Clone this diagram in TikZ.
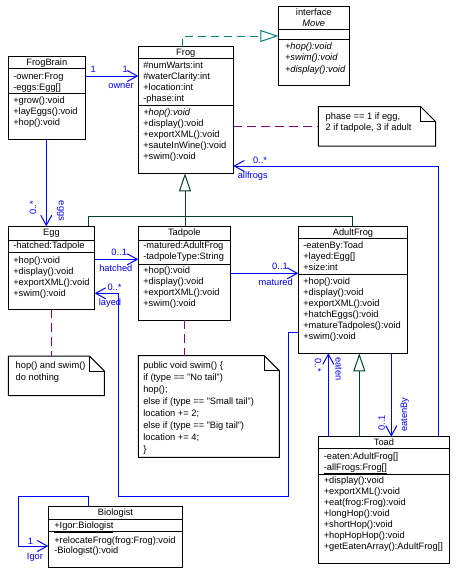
\documentclass[tikz,border=0pt]{standalone}
\usepackage{fontspec}
\setmainfont{Liberation Sans}
\usetikzlibrary{arrows.meta,fit,calc}
\definecolor{umlblue}{RGB}{0,0,255}
\definecolor{umlgen}{RGB}{0,64,48}
\definecolor{umlreal}{RGB}{0,128,128}
\definecolor{umlnote}{RGB}{128,0,128}
\tikzset{
  every node/.style={font=\fontsize{9.3}{11}\selectfont},
  classframe/.style={draw=black, line width=1pt, inner sep=0pt, outer sep=0pt, fill=white},
  notefit/.style={inner sep=0pt, outer sep=0pt},
  divider/.style={draw=black, line width=1pt},
  noteline/.style={draw=black, line width=1pt, line join=miter},
  txt/.style={anchor=base west, inner sep=0pt, outer sep=0pt},
  ttl/.style={anchor=base, inner sep=0pt, outer sep=0pt},
  lbl/.style={text=umlblue, inner sep=0pt, outer sep=0pt, anchor=center},
  assoc/.style={draw=umlblue, line width=1pt, -{Straight Barb[length=10pt,width=11pt]}},
  gen/.style={draw=umlgen, line width=1pt},
  gentip/.style={-{Triangle[open,length=18pt,width=12pt]}},
  real/.style={draw=umlreal, line width=1pt, dash pattern=on 8pt off 5pt, -{Triangle[open,length=18pt,width=12pt]}},
  notelink/.style={draw=umlnote, line width=1pt, dash pattern=on 9pt off 5pt},
}
\newcommand\umlbox[7]{%
  \coordinate (#1-nw) at (#2,#3); \coordinate (#1-se) at (#4,#5);
  \node[classframe, fit=(#1-nw)(#1-se)] (#1) {};
  \draw[divider] (#2,#6) -- (#4,#6);
  \draw[divider] (#2,#7) -- (#4,#7);
}
\newcommand\umlnote[5]{%
  \coordinate (#1-nw) at (#2,#3); \coordinate (#1-se) at (#4,#5);
  \node[notefit, fit=(#1-nw)(#1-se)] (#1) {};
  \draw[noteline, fill=white] (#2,#3) -- ({#4-15},#3) -- (#4,{#3+15}) -- (#4,#5) -- (#2,#5) -- cycle;
  \draw[noteline] ({#4-15},#3) -- ({#4-15},{#3+15}) -- (#4,{#3+15});
}
\newcommand\txtlines[5]{%
  \foreach \t [count=\i from 0] in {#5} {
    \node[txt] (#1-\i) at ({#2},{#3+\i*#4}) {\t};
  }
}
\begin{document}
\begin{tikzpicture}[x=1pt,y=-1pt]
\fill[white] (0,0) rectangle (458,574);
\useasboundingbox (0,0) rectangle (458,574);

% ---------- classes ----------
\umlbox{frogbrain}{8.3}{56.7}{85.3}{139.3}{68.3}{93.3}
\node[ttl] (frogbrain-t) at (46.8,65.9) {FrogBrain};
\txtlines{frogbrain-a}{13.3}{79.2}{11}{-owner:Frog,-eggs:Egg[]}
\txtlines{frogbrain-m}{13.3}{103.5}{11.2}{+grow():void,+layEggs():void,+hop():void}

\umlbox{frog}{138.3}{46.7}{233.3}{173.3}{58.3}{105.3}
\node[ttl] (frog-t) at (185.8,55.7) {Frog};
\txtlines{frog-a}{143.3}{68.9}{11}{\#numWarts:int,\#waterClarity:int,+location:int,-phase:int}
\txtlines{frog-m}{143.3}{115.9}{11}{\textit{+hop():void},+display():void,+exportXML():void,+sauteInWine():void,+swim():void}

\umlbox{move}{278.3}{6}{349.3}{85.3}{29.3}{39.3}
\node[ttl] (move-t1) at (313.8,15.9) {interface};
\node[ttl] (move-t2) at (313.8,26.9) {\textit{Move}};
\txtlines{move-m}{285}{49.5}{11.3}{\textit{+hop():void},\textit{+swim():void},\textit{+display():void}}

\umlbox{egg}{8.3}{226.3}{94.7}{309}{240}{252.3}
\node[ttl] (egg-t) at (51.5,235.9) {Egg};
\txtlines{egg-a}{13.3}{248.9}{11}{-hatched:Tadpole}
\txtlines{egg-m}{13.3}{263.2}{11}{+hop():void,+display():void,+exportXML():void,+swim():void}

\umlbox{tadpole}{138.3}{226.3}{230.3}{320}{240}{264}
\node[ttl] (tadpole-t) at (184.3,235.9) {Tadpole};
\txtlines{tadpole-a}{143.3}{248.9}{11}{-matured:AdultFrog,-tadpoleType:String}
\txtlines{tadpole-m}{143.3}{273.9}{11}{+hop():void,+display():void,+exportXML():void,+swim():void}

\umlbox{adultfrog}{298.3}{226.7}{407.7}{353.3}{238.3}{274.3}
\node[ttl] (adultfrog-t) at (353,235.9) {AdultFrog};
\txtlines{adultfrog-a}{303.3}{248.9}{11}{-eatenBy:Toad,+layed:Egg[],+size:int}
\txtlines{adultfrog-m}{303.3}{284.9}{11}{+hop():void,+display():void,+exportXML():void,+hatchEggs():void,+matureTadpoles():void,+swim():void}

\umlbox{toad}{318.3}{436.7}{449.7}{563.3}{448.3}{474}
\node[ttl] (toad-t) at (384,445.9) {Toad};
\txtlines{toad-a}{323.8}{459.2}{11}{-eaten:AdultFrog[],\underline{-allFrogs:Frog[]}}
\txtlines{toad-m}{323.8}{483.2}{11}{+display():void,+exportXML():void,+eat(frog:Frog):void,+longHop():void,+shortHop():void,+hopHopHop():void,+getEatenArray():AdultFrog[]}

\umlbox{biologist}{48.3}{506.7}{182.7}{567.3}{519.3}{531.7}
\node[ttl] (biologist-t) at (115.5,515.9) {Biologist};
\txtlines{biologist-a}{54.3}{528.9}{11}{\underline{+Igor:Biologist}}
\txtlines{biologist-m}{54.3}{543.2}{10.7}{+relocateFrog(frog:Frog):void,-Biologist():void}

% ---------- notes ----------
\umlnote{phasenote}{318.3}{106.7}{435.7}{146}
\txtlines{phasenote-x}{325.7}{119.2}{11.7}{{phase == 1 if egg,},{2 if tadpole, 3 if adult}}
\umlnote{eggnote}{8.3}{356}{104.3}{395.7}
\txtlines{eggnote-x}{15.7}{368.9}{12}{hop() and swim(),do nothing}
\umlnote{tadnote}{138.3}{355.7}{279.3}{457.3}
\txtlines{tadnote-x}{143.3}{368.2}{12}{public void swim() \{,if (type == "No tail"),hop();,else if (type == "Small tail"),location += 2;,else if (type == "Big tail"),location += 4;,\}}

% ---------- note links ----------
\coordinate (yPh) at (0,126.3);
\coordinate (xEN) at (51.3,0);
\coordinate (xTN) at (184.3,0);
\draw[notelink] (frog.east |- yPh) -- (phasenote.west |- yPh);
\draw[notelink] (egg.south -| xEN) -- (eggnote.north -| xEN);
\draw[notelink] (tadpole.south -| xTN) -- (tadnote.north -| xTN);

% ---------- realization ----------
\coordinate (re1) at (182.3,36);
\draw[real] (frog.north -| re1) -- (re1) -- (move.west |- re1);

% ---------- generalizations ----------
\coordinate (gEgg) at (88.3,216);
\coordinate (gTad) at (185,216);
\coordinate (gAdult) at (352.7,216);
\draw[gen] (egg.north -| gEgg) -- (gEgg) -- (gAdult) -- (adultfrog.north -| gAdult);
\draw[gen] (tadpole.north -| gTad) -- (gTad);
\draw[gen, gentip] (gTad) -- (frog.south -| gTad);
\coordinate (xTG) at (359.3,0);
\draw[gen, gentip] (toad.north -| xTG) -- (adultfrog.south -| xTG);

% ---------- associations ----------
\coordinate (yOwner) at (0,76);
\draw[assoc] (frogbrain.east |- yOwner) -- (frog.west |- yOwner);
\node[lbl] (l-own1) at (93.3,69.7) {1};
\node[lbl] (l-own2) at (125.3,69.7) {1};
\node[lbl] (l-own3) at (121,86) {owner};

\coordinate (xEggs) at (46.3,0);
\draw[assoc] (frogbrain.south -| xEggs) -- (egg.north -| xEggs);
\node[lbl, rotate=90] (l-eggs1) at (33,208) {0..*};
\node[lbl, rotate=-90] (l-eggs2) at (60.5,211) {eggs};

\coordinate (yHatch) at (0,259.3);
\draw[assoc] (egg.east |- yHatch) -- (tadpole.west |- yHatch);
\node[lbl] (l-hat1) at (119.2,252.3) {0..1};
\node[lbl] (l-hat2) at (115.8,268.5) {hatched};

\coordinate (yMat) at (0,273.3);
\draw[assoc] (tadpole.east |- yMat) -- (adultfrog.west |- yMat);
\node[lbl] (l-mat1) at (280,266) {0..1};
\node[lbl] (l-mat2) at (275.7,282.3) {matured};

\coordinate (lay1) at (288.3,332.7);
\coordinate (lay2) at (288.3,496.7);
\coordinate (lay3) at (118.3,496.7);
\coordinate (lay4) at (118.3,293.3);
\draw[assoc] (adultfrog.west |- lay1) -- (lay1) -- (lay2) -- (lay3) -- (lay4) -- (egg.east |- lay4);
\node[lbl] (l-lay1) at (114.5,287.7) {0..*};
\node[lbl] (l-lay2) at (110,302.7) {layed};

\coordinate (af1) at (438.3,166);
\draw[assoc] (toad.north -| af1) -- (af1) -- (frog.east |- af1);
\node[lbl] (l-af1) at (260,160) {0..*};
\node[lbl] (l-af2) at (252.8,176) {allfrogs};

\coordinate (xEaten) at (328.3,0);
\draw[assoc] (toad.north -| xEaten) -- (adultfrog.south -| xEaten);
\node[lbl, rotate=-90] (l-eat1) at (318,365) {0..*};
\node[lbl, rotate=-90] (l-eat2) at (338.7,369.2) {eaten};

\coordinate (xEB) at (391.3,0);
\draw[assoc] (adultfrog.south -| xEB) -- (toad.north -| xEB);
\node[lbl, rotate=90] (l-eb1) at (381.7,422.7) {0..1};
\node[lbl, rotate=90] (l-eb2) at (405,414.5) {eatenBy};

\coordinate (ig1) at (88.3,496.3);
\coordinate (ig2) at (18.3,496.3);
\coordinate (ig3) at (18.3,546);
\draw[assoc] (biologist.north -| ig1) -- (ig1) -- (ig2) -- (ig3) -- (biologist.west |- ig3);
\node[lbl] (l-ig1) at (30.5,541) {1};
\node[lbl] (l-ig2) at (35,557.7) {Igor};
\end{tikzpicture}
\end{document}
